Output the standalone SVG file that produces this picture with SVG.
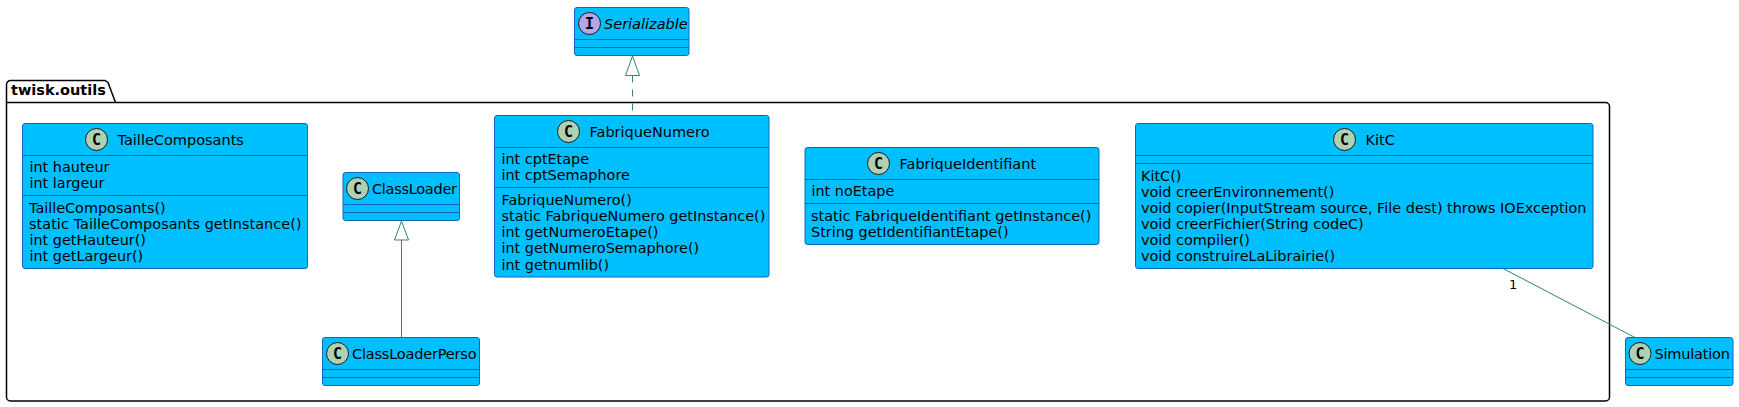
<svg xmlns="http://www.w3.org/2000/svg" width="1739" height="407" viewBox="0 0 1739 407">
<style>
text{font-family:"DejaVu Sans",sans-serif;font-size:14.4px;fill:#000}
text.t{font-size:14.5px}
.box{fill:#00BFFF;stroke:#1565C0;stroke-width:1}
.sep{stroke:#1565C0;stroke-width:1;fill:none}
.cc{fill:#ADD1B2;stroke:#181818;stroke-width:1}
.ci{fill:#B4A7E5;stroke:#181818;stroke-width:1}
text.g{font-family:"DejaVu Sans Mono",monospace;font-weight:bold;font-size:15px;text-anchor:middle}
.edge{stroke:#2E8B57;fill:none;stroke-width:1}
.head{stroke:#2E8B57;fill:#fff;stroke-width:1}
</style>
<g id="pkg-twisk-outils">
<path d="M6.5 84.500a4 4 0 0 1 4-4H105l3 2 7.500 20H1605.500a4 4 0 0 1 4 4V397a4 4 0 0 1-4 4H10.500a4 4 0 0 1-4-4Z" fill="none" stroke="#000" stroke-width="1.500"/>
<path d="M6.500 102.500H115" fill="none" stroke="#000" stroke-width="1.500"/>
<text class="t" x="11" y="95" style="font-weight:bold">twisk.outils</text>
</g>
<g id="connectors">
<path class="edge" d="M401.500 240V337.500"/>
<path class="head" d="M401.500 221l-7 19h14Z"/>
<path class="edge" d="M632.500 75.500V110.500" stroke-dasharray="7 7"/>
<path class="head" d="M632.500 56l-7 19.500h14Z"/>
<path class="edge" d="M1503 268.500L1635 337.500"/>
<text x="1509" y="289" style="font-size:13px">1</text>
</g>
<g id="Serializable">
<rect class="box" x="574.500" y="7.500" width="114.500" height="48" rx="2.500"/>
<path class="sep" d="M574.500 39.500H689M574.500 47.500H689"/>
<circle class="ci" cx="589.500" cy="23.500" r="11"/>
<text class="g" x="589.500" y="29">I</text>
<text class="t" x="604" y="28.500" style="font-style:italic">Serializable</text>
</g>
<g id="TailleComposants">
<rect class="box" x="22.500" y="123.500" width="285" height="145" rx="2.500"/>
<path class="sep" d="M22.500 155.500H307.500M22.500 195.500H307.500"/>
<circle class="cc" cx="96.500" cy="139.500" r="11"/>
<text class="g" x="96.500" y="145">C</text>
<text class="t" x="117.500" y="144.500">TailleComposants</text>
<text x="29.500" y="172">int hauteur</text>
<text x="29.500" y="188">int largeur</text>
<text x="29" y="213">TailleComposants()</text>
<text x="29" y="229" textLength="272.500">static TailleComposants getInstance()</text>
<text x="29.500" y="245">int getHauteur()</text>
<text x="29.500" y="261">int getLargeur()</text>
</g>
<g id="ClassLoader">
<rect class="box" x="343" y="172.500" width="116.500" height="48" rx="2.500"/>
<path class="sep" d="M343 204.500H459.500M343 212.500H459.500"/>
<circle class="cc" cx="357.500" cy="188.500" r="11"/>
<text class="g" x="357.500" y="194">C</text>
<text class="t" x="372" y="193.500" textLength="85">ClassLoader</text>
</g>
<g id="ClassLoaderPerso">
<rect class="box" x="322.500" y="337.500" width="157" height="48" rx="2.500"/>
<path class="sep" d="M322.500 369.500H479.500M322.500 377.500H479.500"/>
<circle class="cc" cx="337.500" cy="353.500" r="11"/>
<text class="g" x="337.500" y="359">C</text>
<text class="t" x="352" y="358.500" textLength="124.500">ClassLoaderPerso</text>
</g>
<g id="FabriqueNumero">
<rect class="box" x="494.500" y="115.500" width="274.500" height="161.500" rx="2.500"/>
<path class="sep" d="M494.500 147.500H769M494.500 187.500H769"/>
<circle class="cc" cx="568.500" cy="131.500" r="11"/>
<text class="g" x="568.500" y="137">C</text>
<text class="t" x="589.500" y="136.500">FabriqueNumero</text>
<text x="501.500" y="164">int cptEtape</text>
<text x="501.500" y="180">int cptSemaphore</text>
<text x="501.500" y="205">FabriqueNumero()</text>
<text x="501.500" y="221">static FabriqueNumero getInstance()</text>
<text x="501.500" y="237">int getNumeroEtape()</text>
<text x="501.500" y="253">int getNumeroSemaphore()</text>
<text x="501.500" y="270">int getnumlib()</text>
</g>
<g id="FabriqueIdentifiant">
<rect class="box" x="805" y="147.500" width="294" height="97" rx="2.500"/>
<path class="sep" d="M805 179.500H1099M805 203.500H1099"/>
<circle class="cc" cx="878.500" cy="163.500" r="11"/>
<text class="g" x="878.500" y="169">C</text>
<text class="t" x="899.500" y="168.500">FabriqueIdentifiant</text>
<text x="811.500" y="196">int noEtape</text>
<text x="811" y="221">static FabriqueIdentifiant getInstance()</text>
<text x="811" y="237">String getIdentifiantEtape()</text>
</g>
<g id="KitC">
<rect class="box" x="1135.500" y="123.500" width="457.500" height="145" rx="2.500"/>
<path class="sep" d="M1135.500 155.500H1593M1135.500 163.500H1593"/>
<circle class="cc" cx="1344.500" cy="139.500" r="11"/>
<text class="g" x="1344.500" y="145">C</text>
<text class="t" x="1365.500" y="144.500">KitC</text>
<text x="1141" y="180.500">KitC()</text>
<text x="1141" y="196.500">void creerEnvironnement()</text>
<text x="1141" y="213">void copier(InputStream source, File dest) throws IOException</text>
<text x="1141" y="229">void creerFichier(String codeC)</text>
<text x="1141" y="245">void compiler()</text>
<text x="1141" y="261">void construireLaLibrairie()</text>
</g>
<g id="Simulation">
<rect class="box" x="1625.500" y="337.500" width="107.500" height="48" rx="2.500"/>
<path class="sep" d="M1625.500 369.500H1733M1625.500 377.500H1733"/>
<circle class="cc" cx="1640" cy="353.500" r="11"/>
<text class="g" x="1640" y="359">C</text>
<text class="t" x="1654.500" y="358.500" textLength="75.500">Simulation</text>
</g>
</svg>
